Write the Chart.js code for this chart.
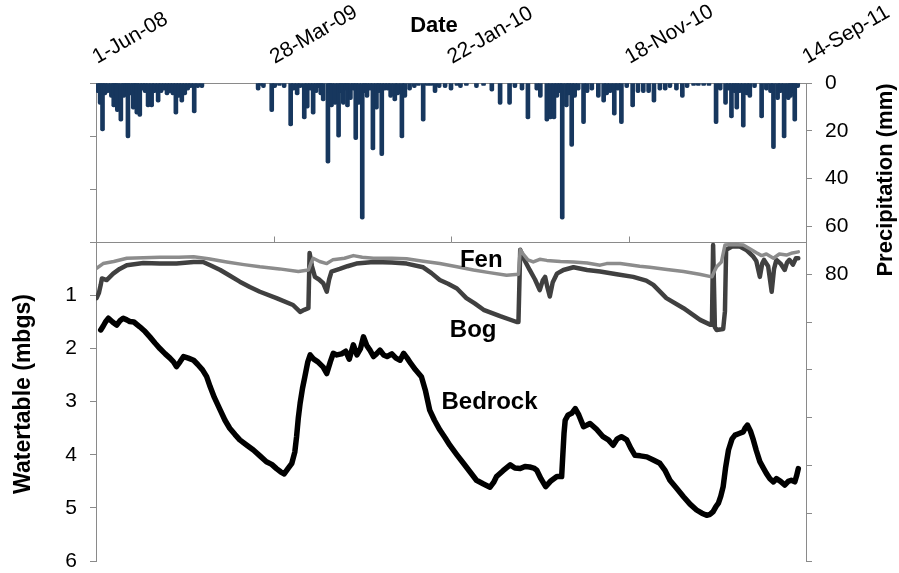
<!DOCTYPE html>
<html><head><meta charset="utf-8">
<script src="https://cdn.jsdelivr.net/npm/chart.js@4.4.1/dist/chart.umd.min.js"></script>
<style>html,body{margin:0;padding:0;background:#fff}</style>
</head><body>
<canvas id="c" width="899" height="573"></canvas>
<script>
// x values are days since 1-Jun-08
const dateLabels = ['1-Jun-08', '28-Mar-09', '22-Jan-10', '18-Nov-10', '14-Sep-11'];
const precipTickLabels = [0, 20, 40, 60, 80];
const depthTickLabels = [1, 2, 3, 4, 5, 6];

const precipDays = [3,7,11,15,20,26,30,33,36,42,47,50,54,58,63,66,69,74,79,83,88,94,99,105,110,115,120,125,130,135,140,145,150,155,160,166,172,179,
  274,278,283,297,302,310,318,329,334,340,345,352,357,362,367,372,376,380,384,392,395,398,404,410,414,418,422,425,430,435,439,444,450,454,458,463,468,474,478,483,488,493,498,505,510,517,522,530,538,545,553,560,566,573,580,590,600,
  610,616,626,643,655,669,683,699,708,720,730,745,751,762,768,774,779,784,788,795,799,804,809,815,824,830,838,849,858,863,869,876,882,888,897,907,916,925,934,943,953,962,970,981,991,999,1010,1018,1027,1036,1048,1055,1064,1069,1074,1079,1083,1088,1094,1100,1105,1113,1125,1133,1140,1145,1152,1157,1163,1170,1174,1178,1181,1186];
const precipMm = [4,9,20,5,4,6,10,5,12,16,6,3,23,5,11,4,13,14,3,4,10,10,4,8,4,3,5,4,5,13,6,8,5,3,2,12.5,2,2,
  3,1,2,12,2,1,2,18,3,5,2,15,10.5,3,13,4,2,5,7.5,33.5,4,10,9,22.7,4,9,3,10,7,3,23.7,9,57,4,6,3,28,11,4,30.4,3,3,6,7.5,5,23,6,3,2,1,16,1,1,4,2,2,3,
  1,2,1,2,1,3.4,9,9,2,3,15,3,6,16,15,15,6,4,57,10,5,26.5,6,3,17,4,3,6,8,5,4,13.5,3,17,2,10,4,4,4,8,3,3,2,3,6,2,1,1,1,1,17,3,9,3,14.6,4,11,4,18.5,5,6,2,14.6,3,4,27.5,7,4,23,7,6,4,16,2];

const fenDays = [1,12,30,52,80,108,140,165,190,221,250,277,310,342,359,363,367,378,390,400,407,420,435,450,469,500,525,550,581,610,638,665,694,714,717,722,730,739,750,762,785,807,830,852,863,886,919,936,965,993,1020,1041,1045,1049,1057,1063,1075,1094,1105,1117,1125,1133,1145,1155,1167,1177,1187];
const fenDepth = [0.49,0.40,0.36,0.30,0.29,0.28,0.28,0.27,0.31,0.37,0.42,0.46,0.50,0.55,0.52,0.40,0.30,0.36,0.40,0.33,0.32,0.30,0.25,0.28,0.30,0.30,0.31,0.35,0.40,0.46,0.52,0.57,0.62,0.60,0.14,0.22,0.33,0.37,0.32,0.34,0.36,0.37,0.39,0.43,0.40,0.40,0.45,0.47,0.51,0.55,0.60,0.65,0.55,0.46,0.37,0.05,0.04,0.05,0.12,0.20,0.25,0.22,0.30,0.22,0.24,0.20,0.18];

const bogDays = [1,5,8,10,18,29,40,52,80,108,136,165,181,195,210,225,243,260,277,305,333,345,352,359,361,365,370,377,384,390,394,398,412,425,440,469,500,525,553,567,581,595,610,626,640,655,683,711,714,717,725,733,742,750,755,759,763,767,772,779,790,807,830,852,880,908,930,942,964,993,1021,1038,1041,1043,1046,1049,1060,1063,1065,1075,1088,1100,1111,1116,1122,1126,1129,1136,1142,1146,1150,1157,1164,1168,1172,1178,1183,1187];
const bogDepth = [1.05,0.95,0.80,0.68,0.71,0.59,0.50,0.43,0.39,0.40,0.40,0.37,0.37,0.44,0.52,0.62,0.74,0.84,0.93,1.05,1.18,1.31,1.27,1.24,0.20,0.45,0.65,0.70,0.77,0.93,0.70,0.55,0.50,0.45,0.40,0.37,0.38,0.40,0.47,0.58,0.71,0.78,0.87,1.05,1.15,1.27,1.39,1.50,1.50,0.14,0.35,0.52,0.70,0.90,0.72,0.65,0.85,1.02,0.75,0.59,0.52,0.47,0.52,0.55,0.60,0.65,0.72,0.80,1.05,1.24,1.46,1.55,1.55,0.05,1.60,1.65,1.63,1.30,0.14,0.08,0.08,0.15,0.27,0.35,0.65,0.40,0.33,0.45,0.93,0.50,0.33,0.40,0.52,0.38,0.33,0.42,0.30,0.30];

const bedrockDays = [8,12,16,21,28,35,41,46,52,57,64,74,83,91,100,108,117,125,131,136,142,148,156,165,172,180,187,193,200,210,218,226,235,243,255,266,278,288,297,305,312,318,325,331,336,339,342,345,349,353,358,362,368,375,384,390,396,401,407,415,422,428,435,441,447,452,458,463,469,474,480,486,492,500,507,514,520,526,532,540,550,557,564,572,581,590,598,610,621,632,643,655,666,672,677,688,700,708,717,725,733,740,745,752,760,768,779,787,789,791,793,798,804,810,816,824,830,835,846,857,866,874,881,888,897,904,911,920,931,942,953,962,970,982,993,1004,1015,1024,1032,1038,1043,1048,1052,1056,1060,1064,1069,1075,1080,1087,1094,1097,1101,1106,1111,1116,1122,1128,1133,1139,1145,1150,1157,1164,1170,1175,1181,1184,1187];
const bedrockDepth = [1.65,1.58,1.50,1.43,1.50,1.56,1.47,1.43,1.46,1.49,1.50,1.59,1.68,1.78,1.90,2.00,2.10,2.18,2.25,2.34,2.25,2.15,2.18,2.22,2.30,2.40,2.53,2.72,2.92,3.16,3.35,3.50,3.62,3.72,3.82,3.91,4.03,4.13,4.18,4.26,4.32,4.36,4.25,4.16,3.95,3.66,3.30,3.03,2.75,2.53,2.25,2.12,2.20,2.25,2.35,2.47,2.25,2.09,2.12,2.10,2.05,2.20,1.93,2.12,2.00,1.78,1.95,2.03,2.15,2.10,2.03,2.12,2.15,2.10,2.18,2.22,2.09,2.18,2.28,2.40,2.53,2.80,3.16,3.35,3.53,3.68,3.82,4.00,4.16,4.32,4.48,4.55,4.61,4.52,4.41,4.30,4.19,4.25,4.26,4.22,4.23,4.25,4.29,4.45,4.60,4.50,4.41,4.41,4.00,3.60,3.35,3.25,3.22,3.13,3.25,3.47,3.44,3.41,3.52,3.66,3.72,3.82,3.70,3.66,3.72,3.88,4.01,4.02,4.04,4.10,4.16,4.30,4.48,4.64,4.79,4.93,5.04,5.10,5.14,5.12,5.07,4.97,4.91,4.78,4.60,4.25,3.91,3.70,3.63,3.60,3.57,3.50,3.44,3.55,3.72,3.92,4.13,4.25,4.35,4.45,4.51,4.45,4.50,4.57,4.50,4.48,4.51,4.40,4.26];

const seriesNotes = [
  {text: 'Fen', day: 615, depth: 0.47},
  {text: 'Bog', day: 598, depth: 1.79},
  {text: 'Bedrock', day: 584, depth: 3.145}
];

const FONT = '"Liberation Sans", Arial, Helvetica, sans-serif';
const AXIS = '#8a8a8a';
Chart.defaults.font.family = FONT;
Chart.defaults.color = '#000';

const pts = (xs, ys) => xs.map((d, i) => ({x: d, y: ys[i]}));

const overlay = {
  id: 'overlay',
  afterDraw(chart) {
    const ctx = chart.ctx;
    const xs = chart.scales.x, yw = chart.scales.yWT;
    const y0 = Math.round(yw.getPixelForValue(0)) + 0.5;
    ctx.save();
    ctx.strokeStyle = AXIS; ctx.lineWidth = 1;
    xs.ticks.forEach(t => {
      const px = Math.round(xs.getPixelForValue(t.value)) + 0.5;
      ctx.beginPath(); ctx.moveTo(px, y0); ctx.lineTo(px, y0 - 6); ctx.stroke();
    });
    ctx.fillStyle = '#000';
    ctx.textBaseline = 'alphabetic';
    ctx.font = 'bold 24px ' + FONT;
    ctx.textAlign = 'left';
    seriesNotes.forEach(n => ctx.fillText(n.text, xs.getPixelForValue(n.day), yw.getPixelForValue(n.depth)));
    ctx.font = 'bold 22px ' + FONT;
    ctx.textAlign = 'center';
    ctx.fillText('Date', 434, 32);
    ctx.font = 'bold 23px ' + FONT;
    ctx.save(); ctx.translate(30, 394); ctx.rotate(-Math.PI / 2); ctx.fillText('Watertable (mbgs)', 0, 0); ctx.restore();
    ctx.font = 'bold 22px ' + FONT;
    ctx.save(); ctx.translate(892, 180); ctx.rotate(-Math.PI / 2); ctx.fillText('Precipitation (mm)', 0, 0); ctx.restore();
    ctx.restore();
  }
};

new Chart(document.getElementById('c'), {
  type: 'line',
  data: {
    datasets: [
      {label: 'Fen', type: 'line', data: pts(fenDays, fenDepth), xAxisID: 'x', yAxisID: 'yWT', borderColor: '#8c8c8c', borderWidth: 3.5, pointRadius: 0, tension: 0, fill: false, order: 0, borderJoinStyle: 'round', borderCapStyle: 'round'},
      {label: 'Bog', type: 'line', data: pts(bogDays, bogDepth), xAxisID: 'x', yAxisID: 'yWT', borderColor: '#404040', borderWidth: 4.5, pointRadius: 0, tension: 0, fill: false, order: 1, borderJoinStyle: 'round', borderCapStyle: 'round'},
      {label: 'Bedrock', type: 'line', data: pts(bedrockDays, bedrockDepth), xAxisID: 'x', yAxisID: 'yWT', borderColor: '#000000', borderWidth: 5.5, pointRadius: 0, tension: 0, fill: false, order: 2, borderJoinStyle: 'round', borderCapStyle: 'round'},
      {label: 'Precipitation', type: 'bar', data: pts(precipDays, precipMm), xAxisID: 'x', yAxisID: 'yP', backgroundColor: '#17375E', barThickness: 4, borderRadius: 2, borderSkipped: 'start', grouped: false, order: 3}
    ]
  },
  options: {
    responsive: false, animation: false, devicePixelRatio: 1,
    layout: {padding: {top: 0, left: 0, right: 0, bottom: 12}},
    plugins: {legend: {display: false}, tooltip: {enabled: false}},
    scales: {
      x: {
        type: 'linear', position: 'top', min: 0, max: 1200, offset: false,
        ticks: {stepSize: 300, minRotation: 30, maxRotation: 30, autoSkip: false, padding: 13, labelOffset: 11, font: {size: 21},
          callback: (v, i) => dateLabels[i] ?? ''},
        grid: {display: false, drawTicks: false, offset: false},
        border: {display: true, color: AXIS, width: 1},
        afterFit: s => { s.height = 83; s.paddingLeft = 0; s.paddingRight = 0; }
      },
      yWT: {
        type: 'linear', position: 'left', reverse: true, min: -3, max: 6,
        ticks: {stepSize: 1, padding: 13, font: {size: 21},
          callback: v => depthTickLabels.includes(v) ? String(v) : ''},
        grid: {drawOnChartArea: true, color: c => (c.tick && c.tick.value === 0) ? AXIS : 'rgba(0,0,0,0)', tickColor: AXIS, tickLength: 6},
        border: {display: true, color: AXIS, width: 1},
        afterFit: s => { s.width = 96; s.paddingTop = 0; s.paddingBottom = 0; }
      },
      yP: {
        type: 'linear', position: 'right', reverse: true, min: 0, max: 200,
        ticks: {stepSize: 20, padding: 13, font: {size: 21},
          callback: v => precipTickLabels.includes(v) ? String(v) : ''},
        grid: {drawOnChartArea: false, tickColor: AXIS, tickLength: 6},
        border: {display: true, color: AXIS, width: 1},
        afterFit: s => { s.width = 93; s.paddingTop = 0; s.paddingBottom = 0; }
      }
    }
  },
  plugins: [overlay]
});
</script>
</body></html>
